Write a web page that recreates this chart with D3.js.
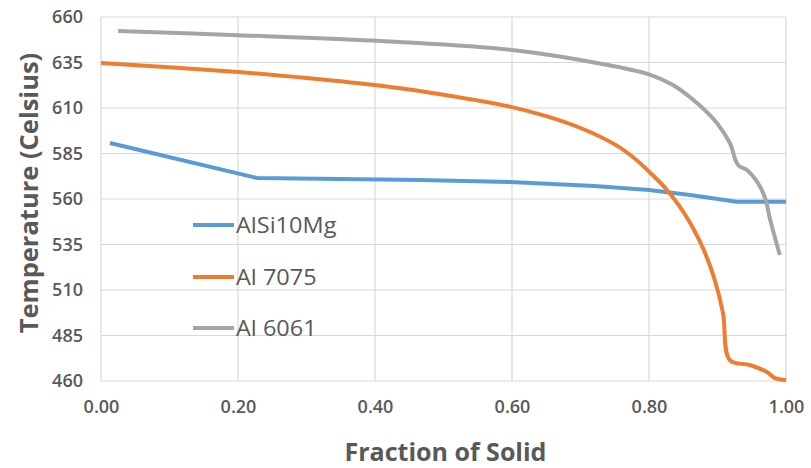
<!DOCTYPE html>
<html><head><meta charset="utf-8">
<script src="https://cdn.jsdelivr.net/npm/d3@7"></script>
<style>body{margin:0;background:#fff}svg{display:block}</style>
</head><body>
<script>
const xTicks = [0, 0.2, 0.4, 0.6, 0.8, 1.0];
const yTicks = [460, 485, 510, 535, 560, 585, 610, 635, 660];
const seriesNames = ["AlSi10Mg", "Al 7075", "Al 6061"];
const seriesColors = ["#5b9bd5", "#ed7d31", "#a5a5a5"];

const alsi10mgX = [0.013, 0.228, 0.466, 0.597, 0.72, 0.8, 0.86, 0.928, 1.0];
const alsi10mgY = [590.8, 571.5, 570.4, 569.3, 567.2, 565, 562.2, 558.5, 558.5];

const al7075X = [0.0, 0.2, 0.3, 0.4, 0.5, 0.6, 0.65, 0.7, 0.75, 0.78, 0.8, 0.825, 0.85, 0.865, 0.88, 0.896, 0.908, 0.918, 0.947, 0.972, 0.984, 1.0];
const al7075Y = [634.7, 629.8, 626.5, 622.6, 617.3, 610.5, 605.5, 599.0, 590.0, 582.0, 575.0, 565.5, 553.0, 543.5, 532.0, 515.5, 497.3, 471.5, 468.8, 465.0, 461.6, 460.5];

const al6061X = [0.025, 0.2, 0.436, 0.6, 0.728, 0.8, 0.835, 0.870, 0.899, 0.918, 0.930, 0.943, 0.959, 0.969, 0.977, 0.991];
const al6061Y = [652.3, 650.0, 646.3, 641.9, 634.5, 628.5, 622.6, 612.7, 601.8, 590.8, 578.7, 575.9, 568.8, 561.1, 548.5, 529.2];

const W = 811, H = 468;
const m = {left: 101, right: 25, top: 17, bottom: 87};
const svg = d3.select("body").append("svg").attr("width", W).attr("height", H);
const x = d3.scaleLinear().domain([0, 1]).range([m.left, W - m.right]);
const y = d3.scaleLinear().domain([460, 660]).range([H - m.bottom, m.top]);
const textCol = "#595959";
const font = "'Open Sans', sans-serif";

// grid
const g = svg.append("g");
g.selectAll("line.h").data(yTicks).join("line")
  .attr("x1", x(0)).attr("x2", x(1)).attr("y1", d => y(d)).attr("y2", d => y(d))
  .attr("stroke", "#d9d9d9").attr("stroke-width", 1.2);
g.selectAll("line.v").data(xTicks).join("line")
  .attr("y1", y(460)).attr("y2", y(660)).attr("x1", d => x(d)).attr("x2", d => x(d))
  .attr("stroke", "#d9d9d9").attr("stroke-width", 1.2);

// axes (labels only)
const xAxis = d3.axisBottom(x).tickValues(xTicks).tickFormat(d3.format(".2f")).tickSize(0).tickPadding(22);
const gx = svg.append("g").attr("transform", `translate(0,${y(460)})`).call(xAxis);
gx.select(".domain").remove();
gx.selectAll("text").attr("fill", textCol).style("font-family", font).style("font-size", "18px").style("font-weight", 600)
  .attr("dy", "0.55em");

const yAxis = d3.axisLeft(y).tickValues(yTicks).tickFormat(d3.format("d")).tickSize(0).tickPadding(18);
const gy = svg.append("g").attr("transform", `translate(${x(0)},0)`).call(yAxis);
gy.select(".domain").remove();
gy.selectAll("text").attr("fill", textCol).style("font-family", font).style("font-size", "18px").style("font-weight", 600);

// titles
svg.append("text").attr("x", (x(0) + x(1)) / 2 + 2).attr("y", 461)
  .attr("text-anchor", "middle").attr("fill", textCol)
  .style("font-family", font).style("font-size", "25px").style("font-weight", 700)
  .text("Fraction of Solid");
svg.append("text").attr("transform", `translate(38,${193}) rotate(-90)`)
  .attr("text-anchor", "middle").attr("fill", textCol)
  .style("font-family", font).style("font-size", "25.5px").style("font-weight", 700)
  .text("Temperature (Celsius)");

// lines
const seriesData = [
  d3.zip(alsi10mgX, alsi10mgY),
  d3.zip(al7075X, al7075Y),
  d3.zip(al6061X, al6061Y)
];
const curves = [d3.curveLinear, d3.curveCatmullRom.alpha(0.5), d3.curveCatmullRom.alpha(0.5)];
svg.selectAll("path.series").data(seriesData).join("path")
  .attr("d", (d, i) => d3.line().x(p => x(p[0])).y(p => y(p[1])).curve(curves[i])(d))
  .attr("fill", "none")
  .attr("stroke", (d, i) => seriesColors[i]).attr("stroke-width", 4)
  .attr("stroke-linejoin", "round");

// legend
const leg = svg.append("g");
const legY = [225, 277, 328];
seriesNames.forEach((n, i) => {
  leg.append("line").attr("x1", 193).attr("x2", 234).attr("y1", legY[i]).attr("y2", legY[i])
    .attr("stroke", seriesColors[i]).attr("stroke-width", 4);
  leg.append("text").attr("transform", `translate(236,${legY[i] + 8}) scale(1.12,1)`).attr("fill", textCol)
    .style("font-family", font).style("font-size", "21px").text(n);
});
</script>
</body></html>
